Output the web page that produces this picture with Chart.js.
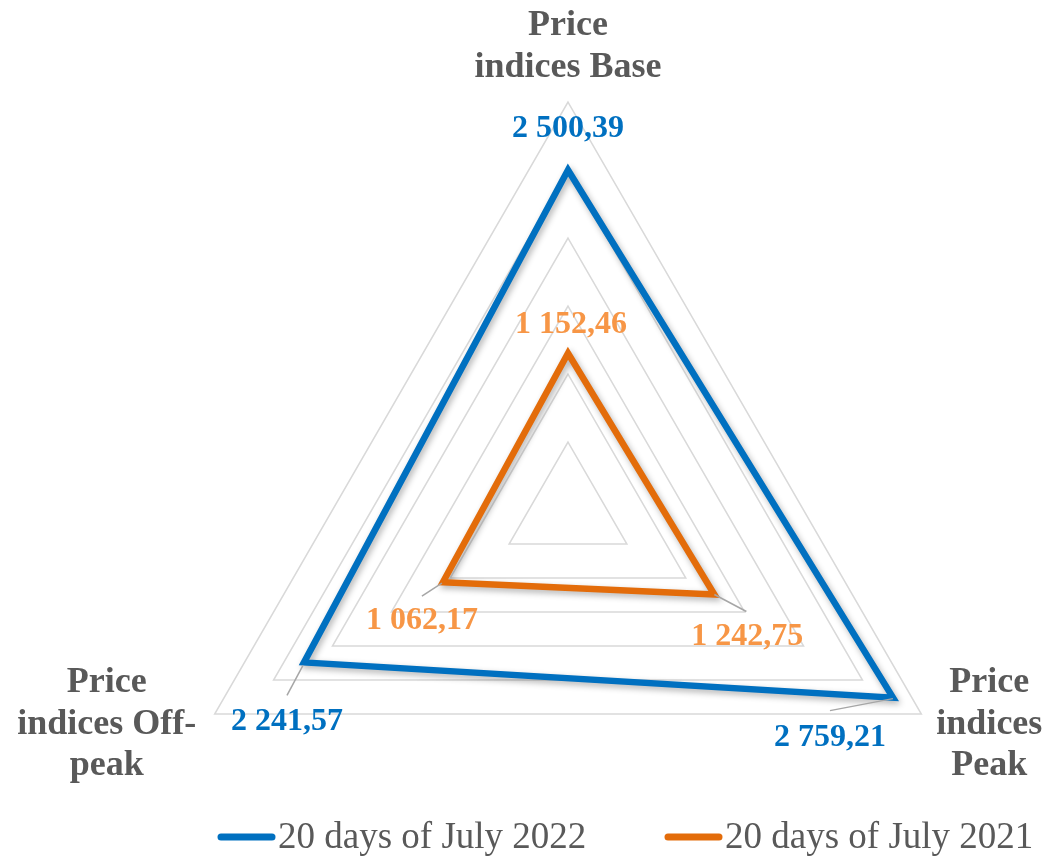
<!DOCTYPE html>
<html>
<head>
<meta charset="utf-8">
<script src="https://cdn.jsdelivr.net/npm/chart.js@4.4.1/dist/chart.umd.min.js"></script>
<style>
html, body { margin: 0; padding: 0; background: #fff; overflow: hidden; }
canvas { display: block; }
</style>
</head>
<body>
<canvas id="priceRadar" width="1051" height="857"></canvas>
<script>
// data
const categories = [['Price', 'indices Base'], ['Price', 'indices', 'Peak'], ['Price', 'indices Off-', 'peak']];
const seriesNames = ['20 days of July 2022', '20 days of July 2021'];
const values2022 = [2500.39, 2759.21, 2241.57];
const values2021 = [1152.46, 1242.75, 1062.17];
const scaleMin = 0;
const scaleMax = 3000;
const scaleStep = 500;

const lineColors = ['#0070C0', '#E36C0A'];
const labelColors = ['#0070C0', '#F79646'];
const greyText = '#595959';

// label placement relative to each point: [text dx, text dy(baseline), leader start/end]
const labelPlacement = [
    [[0, -33, null], [-63, 48, [0, 1, -63, 13]], [-17, 68, [-1, 3, -17, 33]]],
    [[3, -20, null], [33, 50, [0, 0, 32, 17]], [-21, 47, [-1, 1, -21, 14]]]
];
// axis title offsets from outer vertex: [dx, first baseline dy, line height]
const titleSpots = [[0, -67, 42], [68, -22, 41.5], [-108, -22, 41.5]];

function fmt(v) {
    const parts = v.toFixed(2).split('.');
    return parts[0].replace(/\B(?=(\d{3})+(?!\d))/g, ' ') + ',' + parts[1];
}

// keep the radar at the same spot/size as the original
const placeRadar = {
    id: 'placeRadar',
    afterLayout(chart) {
        const s = chart.scales.r;
        s.xCenter = 568;
        s.yCenter = 510;
        s.drawingArea = 408;
    }
};

const lineShadow = {
    id: 'lineShadow',
    beforeDatasetDraw(chart) {
        const ctx = chart.ctx;
        ctx.save();
        ctx.shadowColor = 'rgba(0,0,0,0.3)';
        ctx.shadowBlur = 6;
        ctx.shadowOffsetX = 2;
        ctx.shadowOffsetY = 3;
    },
    afterDatasetDraw(chart) {
        chart.ctx.restore();
    }
};

const textLayer = {
    id: 'textLayer',
    afterDatasetsDraw(chart) {
        const ctx = chart.ctx;
        const s = chart.scales.r;
        ctx.save();

        // axis titles
        ctx.font = 'bold 36px "Liberation Serif", "Times New Roman", serif';
        ctx.fillStyle = greyText;
        ctx.textAlign = 'center';
        ctx.textBaseline = 'alphabetic';
        categories.forEach((lines, i) => {
            const p = s.getPointPosition(i, s.drawingArea);
            const [dx, dy, lh] = titleSpots[i];
            lines.forEach((t, j) => ctx.fillText(t, p.x + dx, p.y + dy + j * lh));
        });

        // data labels with leader lines
        chart.data.datasets.forEach((ds, di) => {
            const meta = chart.getDatasetMeta(di);
            meta.data.forEach((pt, i) => {
                const [dx, dy, leader] = labelPlacement[di][i];
                if (leader) {
                    ctx.strokeStyle = '#A6A6A6';
                    ctx.lineWidth = 1.5;
                    ctx.beginPath();
                    ctx.moveTo(pt.x + leader[0], pt.y + leader[1]);
                    ctx.lineTo(pt.x + leader[2], pt.y + leader[3]);
                    ctx.stroke();
                }
                ctx.font = 'bold 32px "Liberation Serif", "Times New Roman", serif';
                ctx.fillStyle = labelColors[di];
                ctx.fillText(fmt(ds.data[i]), pt.x + dx, pt.y + dy);
            });
        });

        // legend
        ctx.font = '37px "Liberation Serif", "Times New Roman", serif';
        ctx.textAlign = 'left';
        const legendX = [218, 665];
        chart.data.datasets.forEach((ds, di) => {
            const x = legendX[di];
            ctx.strokeStyle = lineColors[di];
            ctx.lineWidth = 7;
            ctx.lineCap = 'round';
            ctx.beginPath();
            ctx.moveTo(x + 3, 837);
            ctx.lineTo(x + 54, 837);
            ctx.stroke();
            ctx.fillStyle = greyText;
            ctx.fillText(ds.label, x + 60, 848);
        });
        ctx.restore();
    }
};

new Chart(document.getElementById('priceRadar').getContext('2d'), {
    type: 'radar',
    data: {
        labels: categories,
        datasets: [{
            label: seriesNames[0],
            data: values2022,
            borderColor: lineColors[0],
            borderWidth: 6.5,
            borderJoinStyle: 'miter',
            pointRadius: 0,
            fill: false,
            clip: false
        }, {
            label: seriesNames[1],
            data: values2021,
            borderColor: lineColors[1],
            borderWidth: 6.5,
            borderJoinStyle: 'miter',
            pointRadius: 0,
            fill: false,
            clip: false
        }]
    },
    options: {
        responsive: false,
        animation: false,
        layout: { padding: 0 },
        plugins: { legend: { display: false }, tooltip: { enabled: false } },
        elements: { line: { tension: 0 } },
        scales: {
            r: {
                min: scaleMin,
                max: scaleMax,
                ticks: { stepSize: scaleStep, display: false },
                grid: { color: '#D9D9D9', lineWidth: 1.5 },
                angleLines: { display: false },
                pointLabels: { display: false }
            }
        }
    },
    plugins: [placeRadar, lineShadow, textLayer]
});
</script>
</body>
</html>
